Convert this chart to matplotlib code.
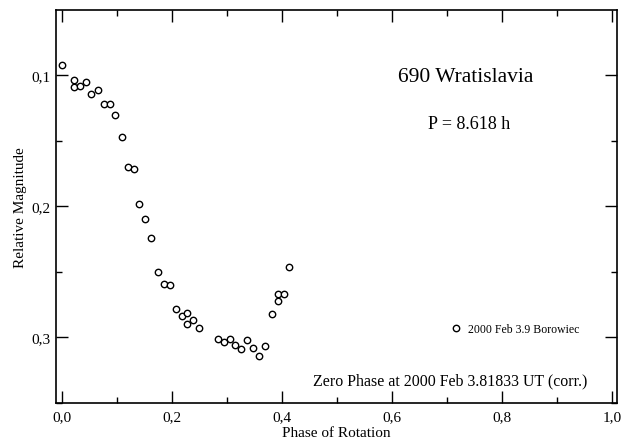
import numpy as np
import matplotlib.pyplot as plt
from matplotlib.ticker import MultipleLocator, FuncFormatter

plt.rcParams['font.family'] = ['Liberation Serif', 'DejaVu Serif']

# lightcurve points, 2000 Feb 3.9 (Borowiec)
phase = [0.000, 0.022, 0.022, 0.033, 0.044, 0.054, 0.065, 0.076, 0.087, 0.097,
         0.109, 0.121, 0.131, 0.141, 0.152, 0.162, 0.174, 0.185, 0.196, 0.207,
         0.218, 0.228, 0.228, 0.239, 0.250, 0.283, 0.294, 0.305, 0.315, 0.326,
         0.337, 0.348, 0.359, 0.370, 0.381, 0.392, 0.392, 0.403, 0.413]
mag = [0.0924, 0.1040, 0.1094, 0.1084, 0.1053, 0.1145, 0.1112, 0.1224, 0.1224, 0.1303,
       0.1470, 0.1704, 0.1714, 0.1981, 0.2100, 0.2243, 0.2500, 0.2594, 0.2604, 0.2783,
       0.2833, 0.2812, 0.2901, 0.2870, 0.2929, 0.3010, 0.3033, 0.3010, 0.3059, 0.3092,
       0.3020, 0.3082, 0.3140, 0.3068, 0.2822, 0.2721, 0.2670, 0.2670, 0.2461]

obj_name = "690 Wratislavia"
period_text = "P = 8.618 h"
zero_phase_text = "Zero Phase at 2000 Feb 3.81833 UT (corr.)"
series_label = "2000 Feb 3.9 Borowiec"

fig = plt.figure(figsize=(6.21, 4.39), dpi=100)
ax = fig.add_axes([0.0902, 0.0797, 0.9038, 0.8953])

ax.plot(phase, mag, 'o', ms=4.6, mfc='white', mec='black', mew=1.0,
        label=series_label, zorder=3)

ax.set_xlim(-0.0104, 1.009)
ax.set_ylim(0.35, 0.0504)

ax.xaxis.set_major_locator(MultipleLocator(0.2))
ax.xaxis.set_minor_locator(MultipleLocator(0.1))
ax.yaxis.set_major_locator(MultipleLocator(0.1))
ax.yaxis.set_minor_locator(MultipleLocator(0.05))
comma = FuncFormatter(lambda v, pos: ("%.1f" % v).replace('.', ','))
ax.xaxis.set_major_formatter(comma)
ax.yaxis.set_major_formatter(comma)

ax.tick_params(which='both', direction='in', top=True, right=True,
               labelsize=11, width=1.0)
ax.tick_params(which='major', length=8.5)
ax.tick_params(which='minor', length=4.3)
ax.tick_params(axis='x', pad=5)
ax.tick_params(axis='y', pad=4)
for s in ax.spines.values():
    s.set_linewidth(1.2)

ax.set_xlabel("Phase of Rotation", fontsize=11, labelpad=2)
ax.set_ylabel("Relative Magnitude", fontsize=11, labelpad=3)

ax.text(0.730, 0.832, obj_name, transform=ax.transAxes, ha='center',
        va='center', fontsize=15.5)
ax.text(0.736, 0.710, period_text, transform=ax.transAxes, ha='center',
        va='center', fontsize=13)
ax.text(0.702, 0.058, zero_phase_text, transform=ax.transAxes, ha='center',
        va='center', fontsize=11.4)

ax.legend(loc='center left', bbox_to_anchor=(0.703, 0.188), frameon=False,
          fontsize=8.5, handlelength=1.0, handletextpad=0.5, borderpad=0,
          borderaxespad=0, numpoints=1)

fig.savefig("out.png", dpi=100)
